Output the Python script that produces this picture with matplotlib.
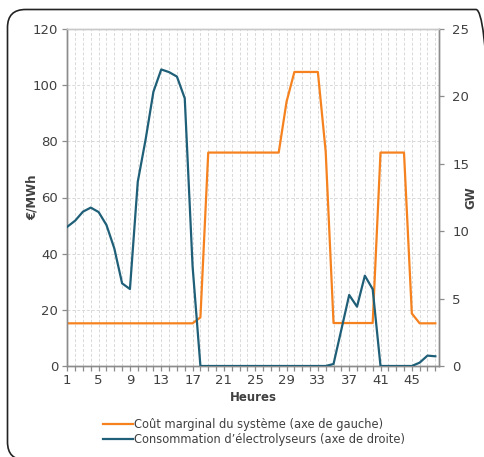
import numpy as np
import matplotlib
matplotlib.use("Agg")
import matplotlib.pyplot as plt
from matplotlib.patches import FancyBboxPatch
from matplotlib.lines import Line2D
from matplotlib.transforms import IdentityTransform

hours = list(range(1, 49))
cout_marginal = [15.2]*17 + [17.3] + [76.0]*10 + [94.1] + [104.7]*4 + [76.3] + [15.3]*6 + [76.0]*4 + [18.7] + [15.2]*3
electrolyseurs = [10.33, 10.78, 11.45, 11.75, 11.42, 10.46, 8.73, 6.13, 5.71, 13.67,
                  16.8, 20.35, 22.0, 21.8, 21.47, 19.86, 7.4] + [0.0]*17 + \
                 [0.15, 2.7, 5.27, 4.4, 6.7, 5.7, 0.0, 0.0, 0.0, 0.0, 0.0, 0.25, 0.77, 0.72]

left_ticks = [0, 20, 40, 60, 80, 100, 120]
right_ticks = [0, 5, 10, 15, 20, 25]
x_ticks = list(range(1, 46, 4))

label_orange = "Coût marginal du système (axe de gauche)"
label_blue = "Consommation d’électrolyseurs (axe de droite)"

ORANGE = "#F5821F"
BLUE = "#1F5F78"
TXT = "#404040"
SPINE = "#8C8C8C"
GRID = "#D9D9D9"

plt.rcParams['font.family'] = ['DejaVu Sans']
fig = plt.figure(figsize=(4.84, 4.57), dpi=100)
W, H = 484, 457
ax = fig.add_axes([67.3/W, 1-366/H, (439-67.3)/W, (366-29)/H])
ax2 = ax.twinx()

ax.plot(hours, cout_marginal, color=ORANGE, lw=1.6, zorder=3)
ax2.plot(hours, electrolyseurs, color=BLUE, lw=1.6, zorder=3)

ax.set_xlim(1, 48.47)
ax.set_ylim(0, 120)
ax2.set_ylim(0, 25)
ax.set_yticks(left_ticks)
ax2.set_yticks(right_ticks)
ax.set_xticks(x_ticks)
ax.set_xticks(hours, minor=True)

ax.grid(True, which='minor', axis='x', color=GRID, ls=(0, (3, 2)), lw=0.7)
ax.grid(True, which='major', axis='x', color=GRID, ls=(0, (3, 2)), lw=0.7)
ax.grid(True, which='major', axis='y', color=GRID, ls=(0, (3, 2)), lw=0.7)
ax.set_axisbelow(True)

for a in (ax, ax2):
    for s in a.spines.values():
        s.set_color(SPINE)
        s.set_linewidth(1.0)
ax.spines['top'].set_color("#C8C8C8")
ax2.spines['top'].set_color("#C8C8C8")

ax.tick_params(axis='both', which='both', colors=SPINE, labelcolor=TXT, labelsize=9.5, length=3.5, width=0.9)
ax.tick_params(axis='y', pad=3)
ax.tick_params(axis='x', pad=2)
ax2.tick_params(axis='y', colors=SPINE, labelcolor=TXT, labelsize=9.5, length=3.5, width=0.9, pad=6)

ax.set_ylabel("€/MWh", fontsize=8.5, fontweight='bold', color=TXT)
ax.yaxis.set_label_coords((39-67.3)/371.7, 0.5)
ax2.set_ylabel("GW", fontsize=8.5, fontweight='bold', color=TXT, rotation=90, va='center')
ax2.yaxis.set_label_coords((471-67.3)/371.7, 0.5)
ax.set_xlabel("Heures", fontsize=8.5, fontweight='bold', color=TXT, labelpad=3)

handles = [Line2D([], [], color=ORANGE, lw=1.6), Line2D([], [], color=BLUE, lw=1.6)]
fig.legend(handles, [label_orange, label_blue], loc='center', bbox_to_anchor=(254/W, 1-432/H),
           frameon=False, fontsize=8.3, handlelength=2.6, handletextpad=0.1, labelspacing=0.2,
           labelcolor=TXT)

box = FancyBboxPatch((7.5, H-460), 494-7.5, 460-9.5,
                     boxstyle="round,pad=0,rounding_size=18", transform=IdentityTransform(),
                     fill=False, ec="#222222", lw=1.2)
fig.patches.append(box)

fig.savefig("out.png", dpi=100)
